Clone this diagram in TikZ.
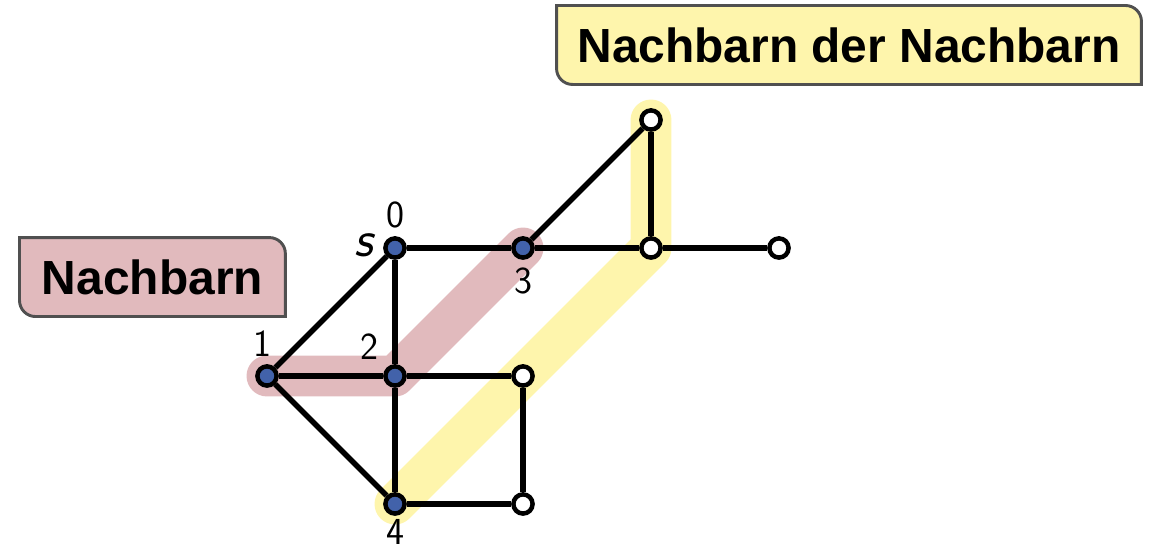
\documentclass[tikz,border=0pt]{standalone}
\usepackage{fontspec}
\newfontfamily\boxfont{Liberation Sans}
\usetikzlibrary{backgrounds}
\definecolor{nbred}{RGB}{225,186,189}
\definecolor{nbyellow}{RGB}{254,245,172}
\definecolor{vblue}{RGB}{66,98,170}
\definecolor{boxgray}{RGB}{80,80,80}
% box with two rounded corners (top right, bottom left)
\newcommand{\tagshape}[2]{\draw[tagline,fill=#2] (#1.north west) -- ([xshift=-0.25cm]#1.north east) arc[start angle=90,end angle=0,radius=0.25cm] -- (#1.south east) -- ([xshift=0.25cm]#1.south west) arc[start angle=270,end angle=180,radius=0.25cm] -- cycle;}

\begin{document}
\begin{tikzpicture}[x=2cm,y=2cm,
  vertex/.style={circle,draw,line width=2pt,minimum size=0.3cm,inner sep=0pt},
  full/.style={vertex,fill=vblue},
  empty/.style={vertex,fill=white},
  edge/.style={line width=2.5pt},
  band/.style={line width=0.64cm,line cap=round,line join=round},
  lbl/.style={font=\fontsize{17}{20}\sffamily},
  slbl/.style={font=\fontsize{23}{27}\sffamily\itshape},
  tag/.style={font=\boxfont\bfseries\fontsize{21.3}{25}\selectfont,minimum height=1.22cm,inner sep=0pt},
  tagline/.style={draw=boxgray,line width=1.3pt}]
\useasboundingbox (-3.086,-2.359) rectangle (5.922,1.9375);
% vertices
\node[full,label={[lbl]above:0},label={[slbl,xshift=-1pt,yshift=1pt]left:s}] (v0) at (0,0) {};
\node[full,label={[lbl,xshift=-2pt]above:1}] (v1) at (-1,-1) {};
\node[full,label={[lbl]above left:2}] (v2) at (0,-1) {};
\node[full,label={[lbl]below:3}] (v3) at (1,0) {};
\node[full,label={[lbl,yshift=2pt]below:4}] (v4) at (0,-2) {};
\node[empty] (w1) at (1,-1) {};
\node[empty] (w2) at (1,-2) {};
\node[empty] (w3) at (2,0) {};
\node[empty] (w4) at (3,0) {};
\node[empty] (w5) at (2,1) {};
% edges
\draw[edge] (v0) -- (v3);
\draw[edge] (v3) -- (w3);
\draw[edge] (w3) -- (w4);
\draw[edge] (v3) -- (w5);
\draw[edge] (w5) -- (w3);
\draw[edge] (v0) -- (v1);
\draw[edge] (v0) -- (v2);
\draw[edge] (v1) -- (v2);
\draw[edge] (v1) -- (v4);
\draw[edge] (v2) -- (v4);
\draw[edge] (v2) -- (w1);
\draw[edge] (w1) -- (w2);
\draw[edge] (v4) -- (w2);
% labels
\node[tag,minimum width=4.14cm] (nb) at (-1.895,-0.227) {Nachbarn};
\node[tag,minimum width=9.125cm] (nbnb) at (3.547,1.586) {Nachbarn der Nachbarn};
\begin{scope}[on background layer]
\draw[band,nbred] (v1.center) -- (v2.center) -- (v3.center);
\draw[band,nbyellow] (v4.center) -- (w3.center) -- (w5.center);
\tagshape{nb}{nbred}
\tagshape{nbnb}{nbyellow}
\end{scope}
\end{tikzpicture}
\end{document}
